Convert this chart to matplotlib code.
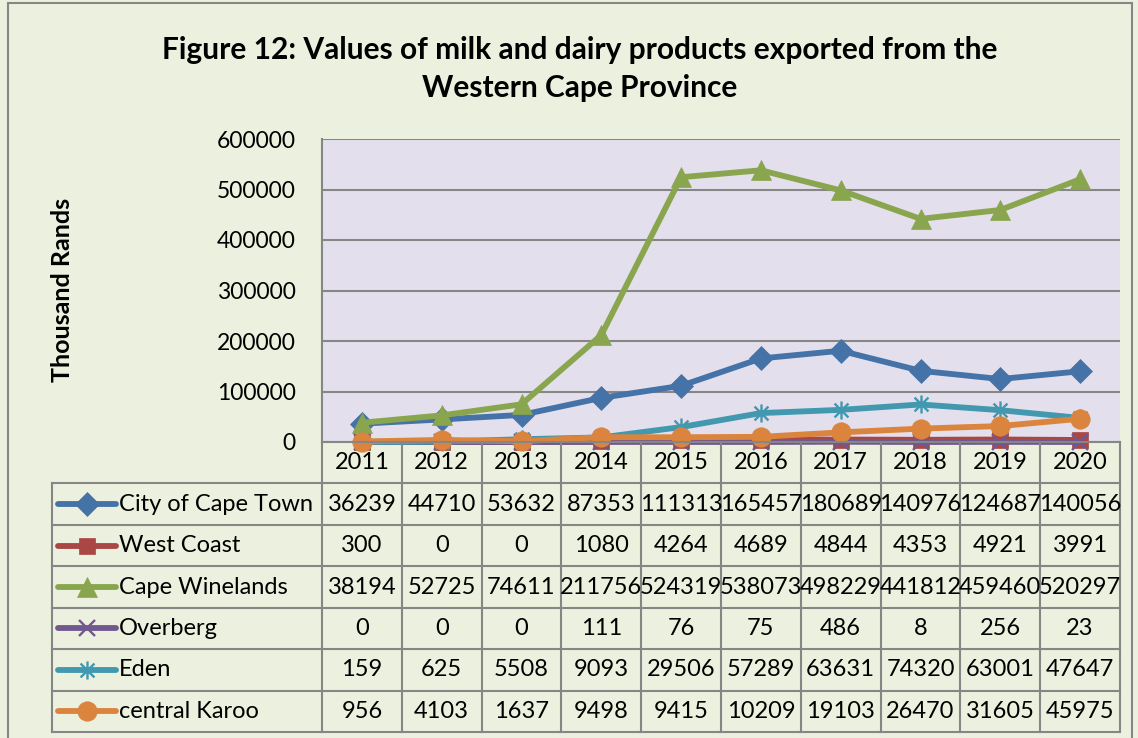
import numpy as np
import matplotlib
matplotlib.use("Agg")
import matplotlib.pyplot as plt
from matplotlib.path import Path
from matplotlib.patches import Rectangle

plt.rcParams['font.family'] = ['Lato', 'DejaVu Sans']

years = ["2011", "2012", "2013", "2014", "2015", "2016", "2017", "2018", "2019", "2020"]
city_of_cape_town = [36239, 44710, 53632, 87353, 111313, 165457, 180689, 140976, 124687, 140056]
west_coast = [300, 0, 0, 1080, 4264, 4689, 4844, 4353, 4921, 3991]
cape_winelands = [38194, 52725, 74611, 211756, 524319, 538073, 498229, 441812, 459460, 520297]
overberg = [0, 0, 0, 111, 76, 75, 486, 8, 256, 23]
eden = [159, 625, 5508, 9093, 29506, 57289, 63631, 74320, 63001, 47647]
central_karoo = [956, 4103, 1637, 9498, 9415, 10209, 19103, 26470, 31605, 45975]

names = ["City of Cape Town", "West Coast", "Cape Winelands", "Overberg", "Eden", "central Karoo"]
series = [city_of_cape_town, west_coast, cape_winelands, overberg, eden, central_karoo]
colors = ["#4572A7", "#AA4643", "#89A54E", "#71588F", "#4198AF", "#DB843D"]

# excel style star: an x with a vertical bar
star = Path([(-1, -1), (1, 1), (-1, 1), (1, -1), (0, -1.3), (0, 1.3)],
            [Path.MOVETO, Path.LINETO] * 3)
markers = ["D", "s", "^", "x", star, "o"]
msizes = [12, 12, 14, 12, 13, 14]

W, H = 1138, 738
grid_col = "#868686"
fig = plt.figure(figsize=(W / 100, H / 100), dpi=100, facecolor="#EBF1DE")
fig.patches.append(Rectangle((8 / W, -0.01), (1132 - 8) / W, 1.01 - 3 / H,
                             transform=fig.transFigure, fill=False,
                             edgecolor=grid_col, lw=1.5))

# plot area
L, R, T, B = 322, 1120, 139, 442
ax = fig.add_axes([L / W, 1 - B / H, (R - L) / W, (B - T) / H])
ax.set_facecolor("#E4DFEC")
x = np.arange(len(years))
for name, vals, c, m, ms in zip(names, series, colors, markers, msizes):
    ax.plot(x, vals, color=c, lw=4.2, marker=m, markersize=ms,
            markeredgewidth=1.7 if m == "x" or m is star else 0.5,
            markeredgecolor=c, markerfacecolor=c, solid_capstyle="round",
            solid_joinstyle="round", clip_on=False, label=name)
ax.set_xlim(-0.5, len(years) - 0.5)
ax.set_ylim(0, 600000)
ax.set_yticks(np.arange(0, 600001, 100000))
ax.set_yticklabels([str(v) for v in range(0, 600001, 100000)], fontsize=16.5)
ax.set_xticks([])
ax.tick_params(axis="y", length=0, pad=19)
ax.grid(axis="y", color=grid_col, lw=1.5)
ax.set_axisbelow(True)
for s in ["top", "right", "bottom"]:
    ax.spines[s].set_visible(False)
ax.spines["left"].set_color(grid_col)
ax.spines["left"].set_linewidth(1.5)

fig.text(62 / W, 1 - 290 / H, "Thousand Rands", rotation=90, fontsize=18,
         fontweight="bold", ha="center", va="center")
fig.text(580 / W, 1 - 50 / H, "Figure 12: Values of milk and dairy products exported from the",
         fontsize=21.5, fontweight="bold", ha="center", va="center")
fig.text(580 / W, 1 - 88 / H, "Western Cape Province",
         fontsize=21.5, fontweight="bold", ha="center", va="center")

# data table below the plot
TL, TB = 52, 732
colw = (R - L) / len(years)
x_left = -0.5 - (L - TL) / colw
tax = fig.add_axes([TL / W, 1 - TB / H, (R - TL) / W, (TB - B) / H])
tax.set_xlim(x_left, len(years) - 0.5)
tax.set_ylim(7, 0)
tax.axis("off")


def px2x(px):
    return x_left + (px - TL) / colw


tax.plot([-0.5, len(years) - 0.5], [0, 0], color=grid_col, lw=1.5, clip_on=False)
for r in range(1, 8):
    tax.plot([x_left, len(years) - 0.5], [r, r], color=grid_col, lw=1.5, clip_on=False)
for i in range(len(years) + 1):
    tax.plot([i - 0.5, i - 0.5], [0, 7], color=grid_col, lw=1.5, clip_on=False)
tax.plot([x_left, x_left], [1, 7], color=grid_col, lw=1.5, clip_on=False)

for i, yr in enumerate(years):
    tax.text(i, 0.5, yr, ha="center", va="center", fontsize=17)
for r, (name, vals, c, m, ms) in enumerate(zip(names, series, colors, markers, msizes), start=1):
    tax.plot([px2x(58), px2x(116)], [r + 0.5, r + 0.5], color=c, lw=4.2,
             solid_capstyle="round", clip_on=False)
    tax.plot([px2x(87)], [r + 0.5], color=c, marker=m, markersize=ms,
             markeredgewidth=1.7 if m == "x" or m is star else 0.5,
             markeredgecolor=c, clip_on=False)
    tax.text(px2x(119), r + 0.5, name, ha="left", va="center", fontsize=17)
    for i, v in enumerate(vals):
        tax.text(i, r + 0.5, str(v), ha="center", va="center", fontsize=17)

fig.savefig("out.png", dpi=100, facecolor=fig.get_facecolor())
